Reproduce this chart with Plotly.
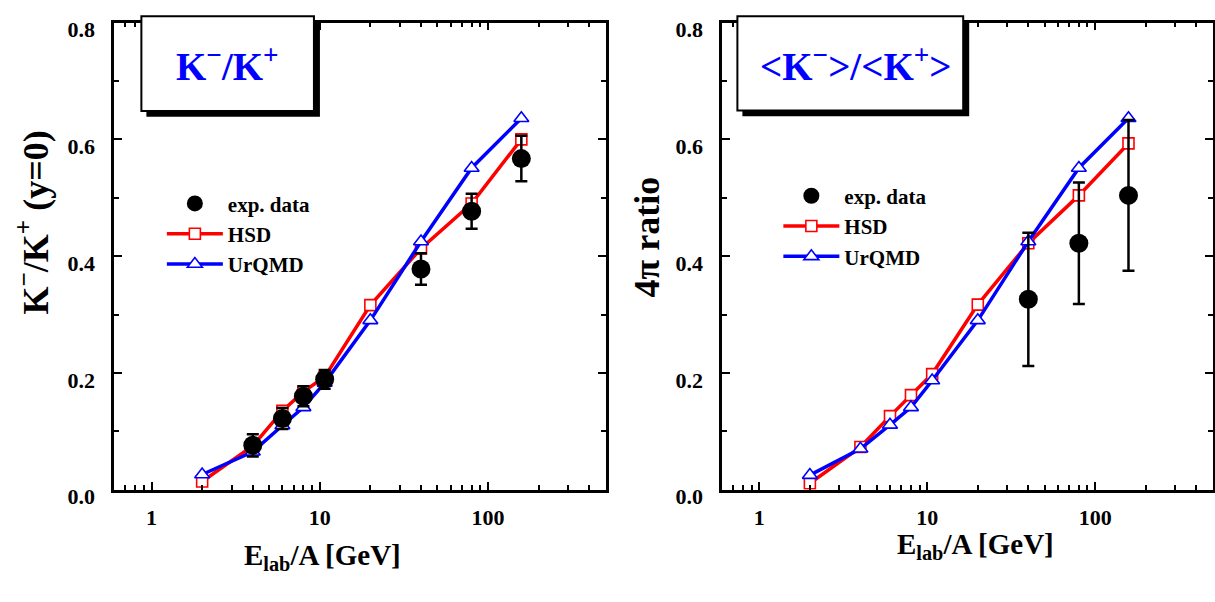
import plotly.graph_objects as go

W, H = 1215, 602

# ---------------- data ----------------
energy = [2, 4, 6, 8, 10.7, 20, 40, 80, 158]

# left panel: K-/K+ at midrapidity
hsd_mid = [0.014, 0.075, 0.135, 0.168, 0.193, 0.316, 0.413, 0.490, 0.600]
urqmd_mid = [0.026, 0.065, 0.110, 0.141, 0.183, 0.290, 0.425, 0.551, 0.636]
exp_mid_energy = [4, 6, 8, 10.7, 40, 80, 158]
exp_mid = [0.076, 0.122, 0.160, 0.189, 0.378, 0.477, 0.567]
exp_mid_err = [0.019, 0.018, 0.017, 0.016, 0.027, 0.030, 0.039]

# right panel: 4pi ratio
hsd_4pi = [0.011, 0.073, 0.126, 0.162, 0.198, 0.317, 0.422, 0.504, 0.593]
urqmd_4pi = [0.025, 0.070, 0.111, 0.141, 0.187, 0.290, 0.425, 0.551, 0.636]
exp_4pi_energy = [40, 80, 158]
exp_4pi = [0.326, 0.422, 0.504]
exp_4pi_err = [0.114, 0.104, 0.129]

FONT = "Liberation Serif"
RED = "#ff0000"
BLUE = "#0000ff"


def px(x):
    return x / W


def py(y):
    return 1 - y / H


fig = go.Figure()


def add_panel(xa, ya, legend, hsd, urq, ex, ey, eerr):
    fig.add_trace(go.Scatter(
        x=energy, y=hsd, mode="lines+markers", name="HSD",
        xaxis=xa, yaxis=ya, legend=legend, legendrank=2,
        line=dict(color=RED, width=3.5),
        marker=dict(symbol="square", size=11, color="white", line=dict(width=1.6, color=RED)),
    ))
    fig.add_trace(go.Scatter(
        x=energy, y=urq, mode="lines+markers", name="UrQMD",
        xaxis=xa, yaxis=ya, legend=legend, legendrank=3,
        line=dict(color=BLUE, width=3.5),
        marker=dict(symbol="triangle-up", size=13, color="white", line=dict(width=1.6, color=BLUE)),
    ))
    fig.add_trace(go.Scatter(
        x=ex, y=ey, mode="markers", name="exp. data",
        xaxis=xa, yaxis=ya, legend=legend, legendrank=1,
        marker=dict(symbol="circle", size=19, color="black"),
        error_y=dict(type="data", array=eerr, visible=True, color="black", thickness=2.5, width=6),
    ))


add_panel("x", "y", "legend", hsd_mid, urqmd_mid, exp_mid_energy, exp_mid, exp_mid_err)
add_panel("x2", "y2", "legend2", hsd_4pi, urqmd_4pi, exp_4pi_energy, exp_4pi, exp_4pi_err)

tickfont = dict(family=FONT, size=22, color="black", weight="bold")

xcommon = dict(
    type="log", range=[-0.2218, 2.699], dtick=1, tick0=0,
    ticks="inside", ticklen=8, tickwidth=2, tickcolor="black",
    showline=True, linewidth=2.5, linecolor="black", mirror="allticks",
    showgrid=False, zeroline=False, tickfont=tickfont, ticklabelstandoff=6,
    minor=dict(dtick="D1", ticks="inside", ticklen=5, tickwidth=2, tickcolor="black", showgrid=False),
)
ycommon = dict(
    range=[0, 0.8], dtick=0.2, tick0=0, tickformat=".1f",
    ticks="inside", ticklen=8, tickwidth=2, tickcolor="black",
    showline=True, linewidth=2.5, linecolor="black", mirror="allticks",
    showgrid=False, zeroline=False, tickfont=tickfont, ticklabelstandoff=12,
    ticklabelshift=7,
    minor=dict(dtick=0.1, ticks="inside", ticklen=5, tickwidth=2, tickcolor="black", showgrid=False),
)

ydom = [py(505.7), py(18.3)]
fig.update_layout(
    width=W, height=H, margin=dict(l=0, r=0, t=0, b=0),
    paper_bgcolor="white", plot_bgcolor="white",
    xaxis=dict(domain=[px(114.3), px(606)], anchor="y", **xcommon),
    yaxis=dict(domain=ydom, anchor="x", **ycommon),
    xaxis2=dict(domain=[px(722.7), px(1213.5)], anchor="y2", **xcommon),
    yaxis2=dict(domain=ydom, anchor="x2", **ycommon),
    showlegend=True,
)

legfont = dict(family=FONT, size=21, color="black", weight="bold")
fig.update_layout(
    legend=dict(x=px(162), y=py(186), xanchor="left", yanchor="top",
                bgcolor="rgba(0,0,0,0)", font=legfont, itemwidth=56,
                itemsizing="trace", tracegroupgap=0),
    legend2=dict(x=px(779), y=py(178), xanchor="left", yanchor="top",
                 bgcolor="rgba(0,0,0,0)", font=legfont, itemwidth=56,
                 itemsizing="trace", tracegroupgap=0),
)

# title boxes with drop shadow
shapes = []
for (x0, y0, x1, y1) in [(141.5, 11.7, 314.2, 110.7), (738, 11.7, 964, 110)]:
    shapes.append(dict(type="rect", xref="paper", yref="paper",
                       x0=px(x0 + 5), x1=px(x1 + 6), y0=py(y1 + 6), y1=py(y0 + 6),
                       fillcolor="black", line=dict(width=0)))
    shapes.append(dict(type="rect", xref="paper", yref="paper",
                       x0=px(x0), x1=px(x1), y0=py(y1), y1=py(y0),
                       fillcolor="white", line=dict(width=2, color="black")))
fig.update_layout(shapes=shapes)

boxfont = dict(family=FONT, size=39, color=BLUE, weight="bold")
titlefont = dict(family=FONT, size=29, color="black", weight="bold")
yfont = dict(family=FONT, size=36, color="black", weight="bold")

ann = [
    dict(text="K<sup>−</sup>/K<sup>+</sup>", x=px(228), y=py(62), font=boxfont),
    dict(text="&lt;K<sup>−</sup>&gt;/&lt;K<sup>+</sup>&gt;", x=px(857), y=py(62), font=boxfont),
    dict(text="E<sub>lab</sub>/A [GeV]", x=px(323), y=py(576), font=titlefont),
    dict(text="E<sub>lab</sub>/A [GeV]", x=px(976), y=py(564), font=titlefont),
    dict(text="K<sup>−</sup>/K<sup>+</sup> (y=0)", x=px(33), y=py(227), font=yfont, textangle=-90),
    dict(text="4π ratio", x=px(647), y=py(242), font=dict(family=FONT, size=36, color="black", weight="bold"), textangle=-90),
]
for a in ann:
    a.update(xref="paper", yref="paper", showarrow=False, xanchor="center", yanchor="middle")
fig.update_layout(annotations=ann)

fig.write_html("out.html")
